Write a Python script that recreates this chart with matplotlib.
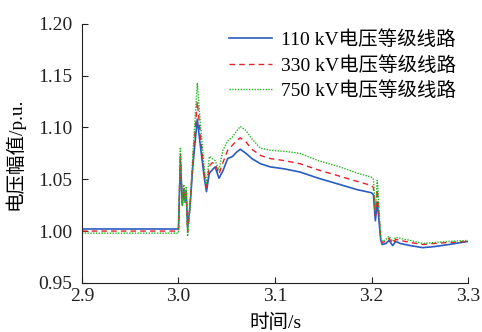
import matplotlib
matplotlib.use("Agg")
import matplotlib.pyplot as plt

plt.rcParams['font.family'] = ['Liberation Serif', 'Noto Sans CJK SC']
plt.rcParams['font.size'] = 14

# time axis (s)
t = [2.900, 3.000, 3.002, 3.004, 3.0055, 3.007, 3.008, 3.0095, 3.012, 3.015,
     3.0195, 3.023, 3.027, 3.029, 3.032, 3.035, 3.038, 3.042, 3.046, 3.051,
     3.056, 3.060, 3.064, 3.070, 3.076, 3.085, 3.095, 3.110, 3.126, 3.145,
     3.167, 3.185, 3.200, 3.202, 3.204, 3.206, 3.2095, 3.211, 3.215, 3.218,
     3.222, 3.225, 3.230, 3.240, 3.253, 3.265, 3.280, 3.300]

v110 = [1.002, 1.002, 1.068, 1.025, 1.041, 1.028, 1.038, 1.003, 1.024, 1.064,
        1.108, 1.080, 1.050, 1.038, 1.056, 1.059, 1.062, 1.051, 1.058, 1.070,
        1.072, 1.076, 1.079, 1.075, 1.070, 1.065, 1.062, 1.060, 1.057, 1.051,
        1.045, 1.040, 1.037, 1.035, 1.010, 1.028, 0.992, 0.987, 0.988, 0.991,
        0.986, 0.990, 0.988, 0.986, 0.984, 0.985, 0.987, 0.990]

v330 = [1.000, 1.000, 1.075, 1.027, 1.042, 1.030, 1.039, 0.999, 1.026, 1.070,
        1.125, 1.090, 1.053, 1.041, 1.063, 1.066, 1.065, 1.055, 1.066, 1.078,
        1.083, 1.087, 1.090, 1.086, 1.079, 1.073, 1.070, 1.068, 1.065, 1.059,
        1.053, 1.048, 1.044, 1.042, 1.015, 1.040, 0.993, 0.989, 0.990, 0.993,
        0.988, 0.992, 0.991, 0.989, 0.987, 0.988, 0.989, 0.990]

v750 = [0.998, 0.998, 1.081, 1.024, 1.045, 1.027, 1.042, 0.995, 1.022, 1.075,
        1.143, 1.100, 1.058, 1.045, 1.072, 1.070, 1.068, 1.059, 1.078, 1.087,
        1.091, 1.096, 1.101, 1.097, 1.089, 1.080, 1.078, 1.077, 1.075, 1.068,
        1.062, 1.056, 1.052, 1.050, 1.020, 1.049, 0.994, 0.990, 0.992, 0.995,
        0.990, 0.994, 0.993, 0.991, 0.988, 0.989, 0.990, 0.991]

labels = ['110 kV电压等级线路', '330 kV电压等级线路', '750 kV电压等级线路']
xticks = [2.9, 3.0, 3.1, 3.2, 3.3]
yticks = [0.95, 1.00, 1.05, 1.10, 1.15, 1.20]

fig = plt.figure(figsize=(4.82, 3.32), dpi=100)
ax = fig.add_axes([0.170, 0.148, 0.801, 0.780])

ax.plot(t, v110, color='#2a5cbf', lw=1.2, ls='-', label=labels[0])
ax.plot(t, v330, color='#e8202a', lw=1.0, ls=(0, (4, 3)), label=labels[1])
ax.plot(t, v750, color='#22b422', lw=1.0, ls=(0, (1, 1)), label=labels[2])

ax.set_xlim(2.9, 3.3)
ax.set_ylim(0.95, 1.20)
ax.set_xticks(xticks)
ax.set_xticklabels(['%.1f' % x for x in xticks])
ax.set_yticks(yticks)
ax.set_yticklabels(['%.2f' % y for y in yticks])
ax.tick_params(direction='in', length=4, width=0.8, colors='#222222')
ax.tick_params(axis='y', pad=7)
ax.tick_params(axis='x', pad=4)
ax.spines['top'].set_visible(False)
ax.spines['right'].set_visible(False)
for s in ['left', 'bottom']:
    ax.spines[s].set_color('#222222')
    ax.spines[s].set_linewidth(0.8)

ax.set_xlabel('时间/s', labelpad=6)
ax.set_ylabel('电压幅值/p.u.', labelpad=10)

ax.legend(loc='upper right', bbox_to_anchor=(1.0, 1.02), frameon=False,
          handlelength=2.2, handletextpad=0.5, labelspacing=0.35, borderaxespad=0.2)

fig.savefig('out.png', dpi=100)
